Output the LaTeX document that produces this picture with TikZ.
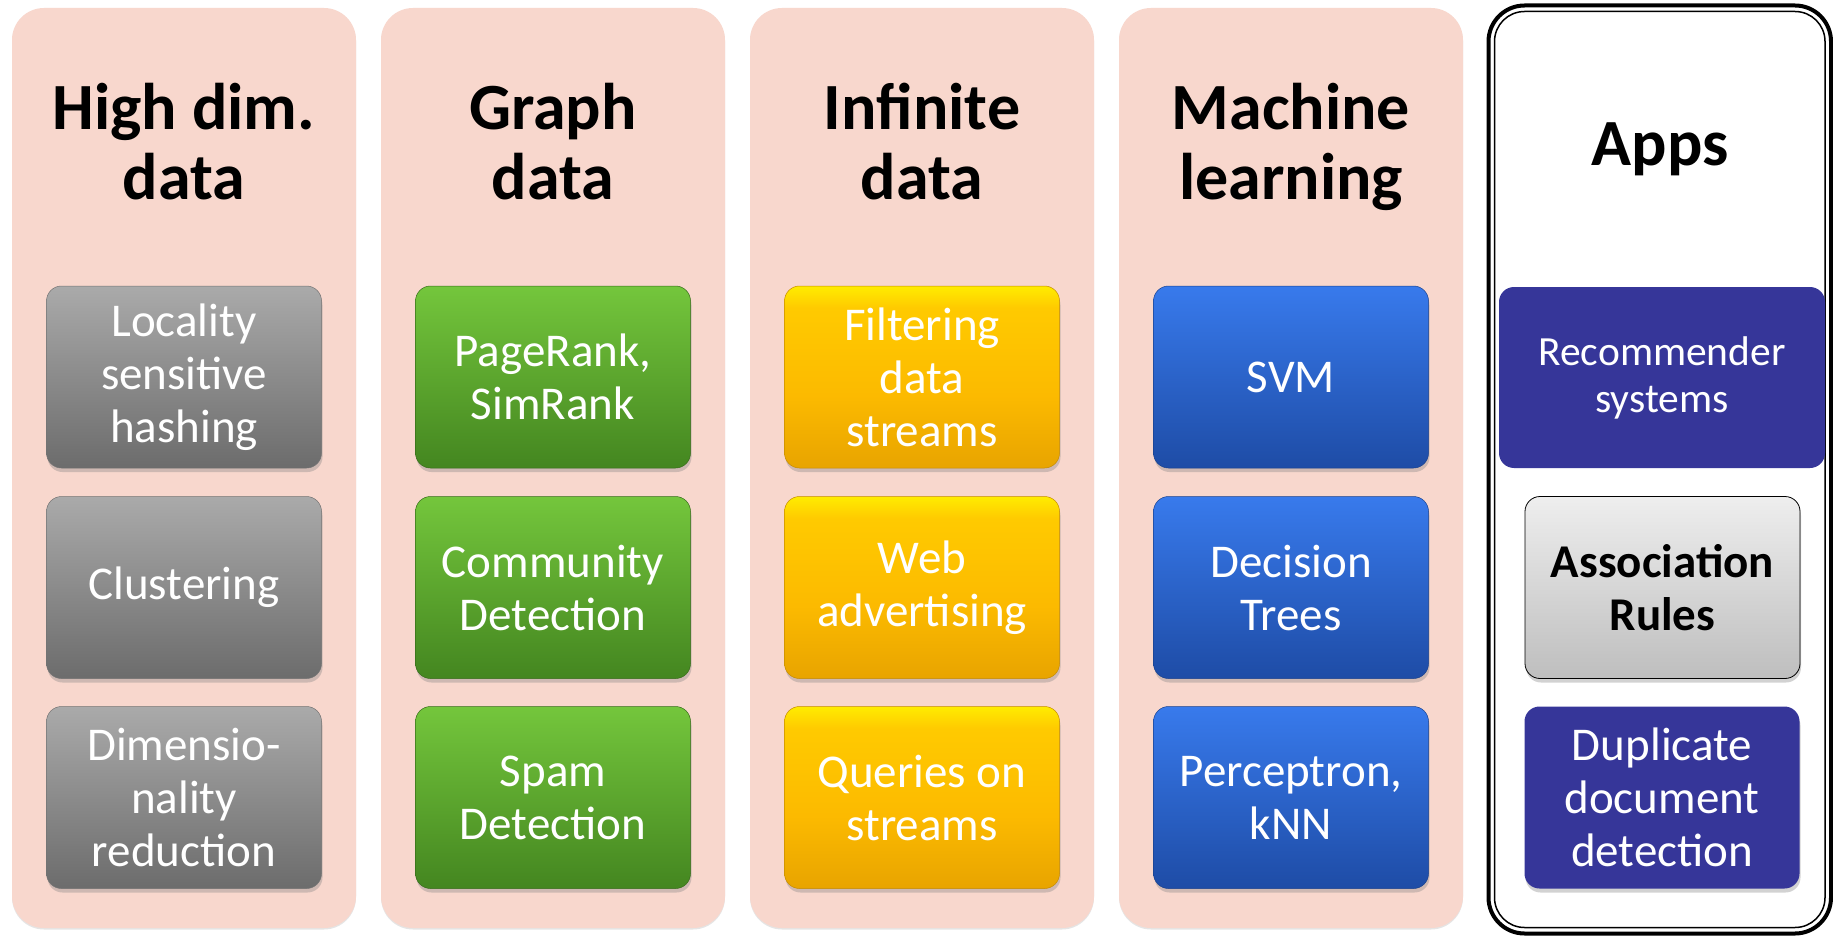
\documentclass[tikz,border=0pt]{standalone}
\usepackage{fontspec}
\setmainfont{Carlito}
\usetikzlibrary{shadows}
\definecolor{colbg}{RGB}{248,215,205}
\definecolor{grayT}{RGB}{170,170,170}
\definecolor{grayB}{RGB}{108,108,108}
\definecolor{greenT}{RGB}{116,198,60}
\definecolor{greenB}{RGB}{68,134,32}
\definecolor{yelT}{RGB}{255,236,0}
\definecolor{yelU}{RGB}{255,202,0}
\definecolor{yelM}{RGB}{252,186,0}
\definecolor{yelB}{RGB}{232,164,0}
\definecolor{blueT}{RGB}{56,122,236}
\definecolor{blueB}{RGB}{30,76,166}
\definecolor{purp}{RGB}{54,54,153}
\definecolor{lgT}{RGB}{238,238,238}
\definecolor{lgB}{RGB}{190,190,190}
\pgfdeclareverticalshading{yelshade}{100bp}{color(0bp)=(yelB); color(25bp)=(yelB); color(45bp)=(yelM); color(69bp)=(yelU); color(75bp)=(yelT); color(100bp)=(yelT)}
\begin{document}
\begin{tikzpicture}[x=1pt,y=-1pt,
  column/.style={rounded corners=32pt, fill=colbg, minimum width=344pt, minimum height=920pt, inner sep=0pt,
    drop shadow={shadow xshift=0pt, shadow yshift=-1.5pt, opacity=0.2}},
  coltitle/.style={font=\fontsize{66}{70}\selectfont\bfseries, align=center, text=black, inner sep=0pt},
  item/.style={rounded corners=15pt, minimum width=275pt, minimum height=182pt, inner sep=0pt, text=white,
    align=center, font=\fontsize{47}{53}\selectfont,
    drop shadow={shadow xshift=1pt, shadow yshift=-4pt, opacity=0.35}},
  grayitem/.style={item, top color=grayT, bottom color=grayB, draw=black!55, line width=0.5pt},
  greenitem/.style={item, top color=greenT, bottom color=greenB, draw=greenB!80!black, line width=0.5pt},
  yelitem/.style={item, shading=yelshade, shading angle=0, draw=yelB!85!black, line width=0.5pt},
  blueitem/.style={item, top color=blueT, bottom color=blueB, draw=blueB!85!black, line width=0.5pt},
  purpitem/.style={item, fill=purp},
]
\useasboundingbox (0,0) rectangle (1833,936);
\fill[white] (0,0) rectangle (1833,936);

% columns
\node[column] (c1) at (184,468) {};
\node[column] (c2) at (553,468) {};
\node[column] (c3) at (922,468) {};
\node[column] (c4) at (1291,468) {};

% apps frame
\node[draw=black, line width=4pt, rounded corners=36pt, minimum width=342.5pt, minimum height=928pt, inner sep=0pt, fill=white] (appsout) at (1659.75,469.5) {};
\node[draw=black, line width=1.5pt, rounded corners=30pt, minimum width=330.5pt, minimum height=916pt, inner sep=0pt] (appsin) at (appsout.center) {};

% titles (base = last line)
\node[coltitle, anchor=base] (t1) at (184,200) {High dim.\\data};
\node[coltitle, anchor=base] (t2) at (553,200) {Graph\\data};
\node[coltitle, anchor=base] (t3) at (922,200) {Infinite\\data};
\node[coltitle, anchor=base] (t4) at (1291,200) {Machine\\learning};
\node[coltitle, anchor=base] (t5) at (1660,166) {Apps};

% column 1
\node[grayitem] (a1) at (184,377) {Locality\\sensitive\\hashing};
\node[grayitem] (a2) at (184,587.5) {Clustering};
\node[grayitem] (a3) at (184,797.5) {Dimensio-\\nality\\reduction};

% column 2
\node[greenitem] (b1) at (553,377) {PageRank,\\SimRank};
\node[greenitem] (b2) at (553,587.5) {Community\\Detection};
\node[greenitem] (b3) at (553,797.5) {Spam\\Detection};

% column 3
\node[yelitem] (d1) at (922,377) {Filtering\\data\\streams};
\node[yelitem] (d2) at (922,587.5) {Web\\advertising};
\node[yelitem] (d3) at (922,797.5) {Queries on\\streams};

% column 4
\node[blueitem] (e1) at (1291,377) {SVM};
\node[blueitem] (e2) at (1291,587.5) {Decision\\Trees};
\node[blueitem] (e3) at (1291,797.5) {Perceptron,\\kNN};

% apps
\node[rounded corners=15pt, minimum width=326pt, minimum height=181pt, inner sep=0pt, fill=purp, text=white,
  align=center, font=\fontsize{41.5}{47}\selectfont] (f1) at (1662,377.5) {Recommender\\systems};
\node[item, top color=lgT, bottom color=lgB, draw=black, line width=0.8pt, text=black, font=\fontsize{47}{53}\selectfont\bfseries] (f2) at (1662.5,587.5) {Association\\Rules};
\node[purpitem] (f3) at (1662,797.5) {Duplicate\\document\\detection};
\end{tikzpicture}
\end{document}
